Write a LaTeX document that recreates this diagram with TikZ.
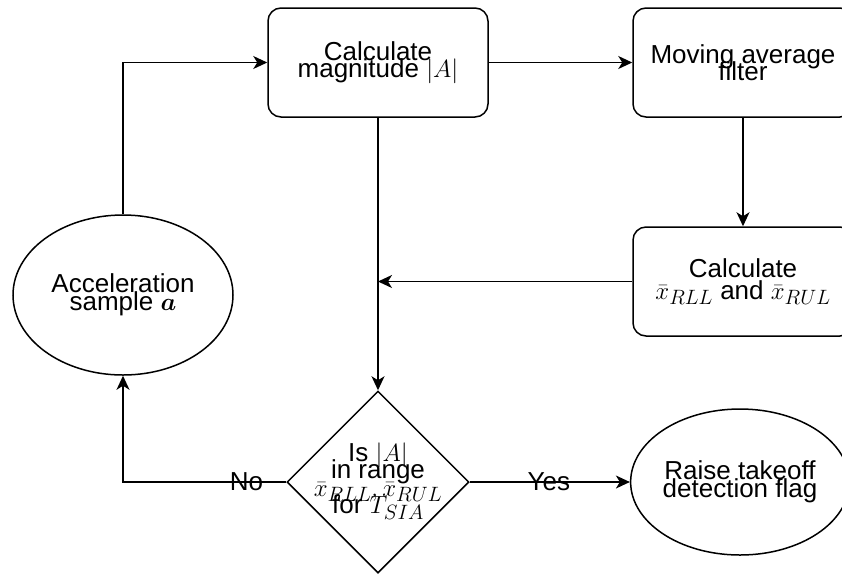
\documentclass[tikz,border=0pt]{standalone}
\usepackage{amsmath}
\usepackage{fontspec}
\setmainfont{Liberation Sans}
\usetikzlibrary{shapes.geometric,arrows.meta}
\DeclareMathSizes{26}{26}{20}{16}
% large text with fixed, tight line spacing
\newcommand{\flowfont}{\fontsize{26}{17.5}\selectfont\lineskiplimit=-100pt\relax\lineskip=0pt\relax}
\begin{document}
\begin{tikzpicture}[x=1pt,y=-1pt,
  lbl/.style={font=\flowfont, align=center, inner sep=0pt},
  proc/.style={lbl, draw, line width=1.5pt, rounded corners=13pt,
    minimum width=220pt, minimum height=109pt},
  term/.style={lbl, draw, line width=1.5pt, ellipse},
  decision/.style={draw, line width=1.5pt, diamond, aspect=1, inner sep=0pt,
    minimum width=182pt, minimum height=182pt},
  arr/.style={line width=1.5pt, -{Stealth[length=14pt,width=13pt,inset=4pt]}},
  edgelbl/.style={lbl}
]
\useasboundingbox (0,0) rectangle (842,574);
\clip (0,0) rectangle (842,574);

% process steps
\node[proc] (mag) at (378,62.5) {Calculate\\magnitude $|A|$};
\node[proc] (maf) at (743,62.5) {Moving average\\filter};
\node[proc] (lim) at (743,281.5) {Calculate\\[4.5pt]$\bar{x}_{RLL}$ and $\bar{x}_{RUL}$};

% start / end
\node[term, minimum width=220pt, minimum height=160pt] (acc) at (123,295)
  {Acceleration\\sample $\boldsymbol{a}$};
\node[term, minimum width=214pt, minimum height=146pt] (flag) at (740,482)
  {Raise takeoff\\detection flag};

% decision
\node[decision] (dec) at (378,482) {};
\node[lbl, yshift=1pt] (dectext) at (dec.center)
  {Is $|A|$\\in range\\$\bar{x}_{RLL},\bar{x}_{RUL}$\\for $T_{SIA}$};

\coordinate (join) at (mag.south |- lim.west);

% connectors
\draw[arr] (acc.north) |- (mag.west);
\draw[arr] (mag.east) -- (maf.west);
\draw[arr] (maf.south) -- (lim.north);
\draw[arr] (lim.west) -- (join);
\draw[arr] (mag.south) -- (dec.north);
\draw[arr] (dec.west) -| node[edgelbl, pos=0.122] (nolbl) {No} (acc.south);
\draw[arr] (dec.east) -- node[edgelbl, pos=0.494] (yeslbl) {Yes} (flag.west);
\end{tikzpicture}
\end{document}
